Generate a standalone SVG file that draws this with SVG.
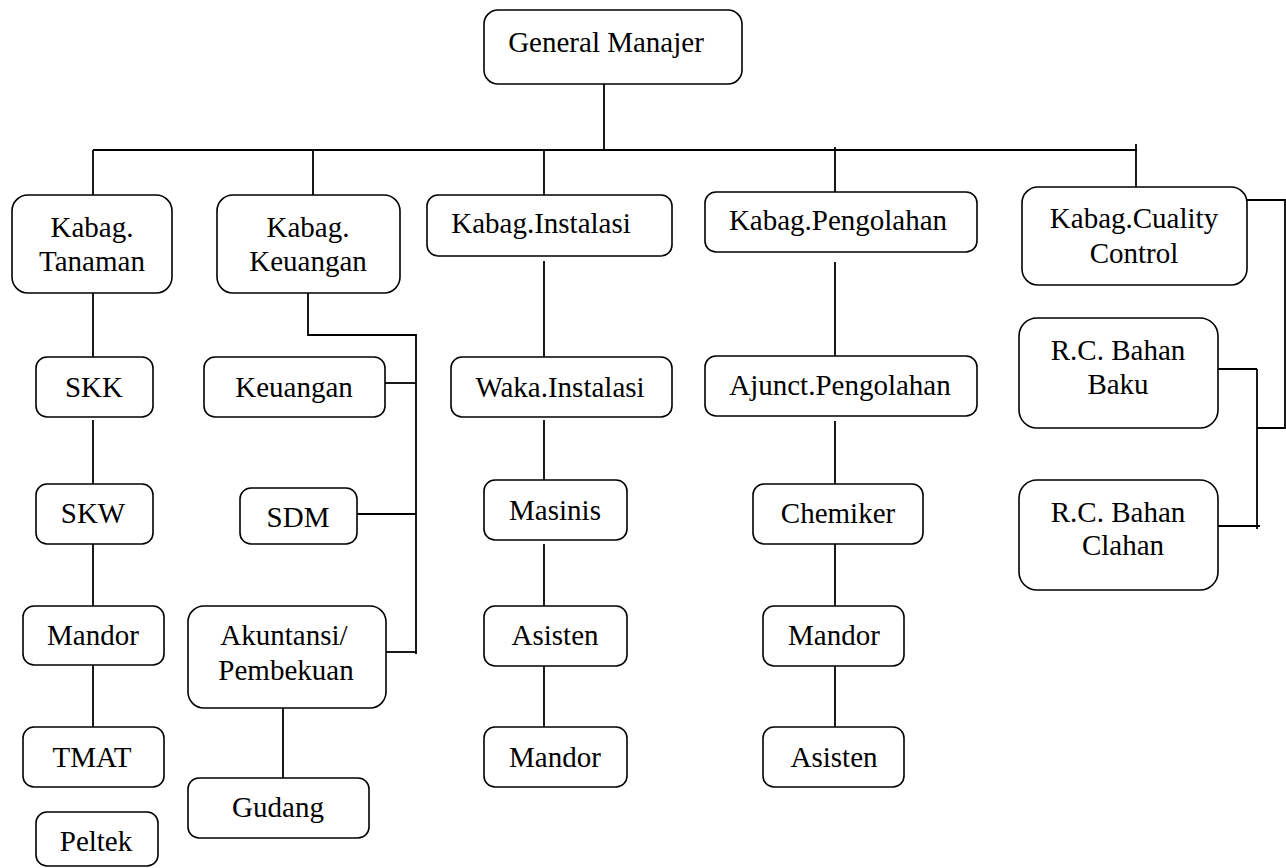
<svg xmlns="http://www.w3.org/2000/svg" width="1286" height="868" viewBox="0 0 1286 868">
<style>
rect.n{fill:#fff;stroke:#000;stroke-width:1.6}
text{font-family:'Liberation Serif','DejaVu Serif',serif;font-size:29px;fill:#000;text-anchor:middle}
.c line,.c polyline{stroke:#000;stroke-width:1.8;fill:none}
</style>
<rect width="1286" height="868" fill="#fff"/>
<g class="c" id="connectors">
<line x1="604" y1="84" x2="604" y2="150"/>
<line x1="93" y1="150" x2="1137" y2="150"/>
<line x1="1136" y1="144" x2="1136" y2="187"/>
<line x1="93" y1="150" x2="93" y2="195"/>
<line x1="313" y1="150" x2="313" y2="195"/>
<line x1="544" y1="150" x2="544" y2="195"/>
<line x1="835" y1="147" x2="835" y2="192"/>
<line x1="93" y1="293" x2="93" y2="357"/>
<line x1="93" y1="420" x2="93" y2="484"/>
<line x1="93" y1="544" x2="93" y2="606"/>
<line x1="93" y1="665" x2="93" y2="727"/>
<polyline points="308,290 308,335 416,335 416,654"/>
<line x1="385" y1="383" x2="416" y2="383"/>
<line x1="357" y1="514" x2="416" y2="514"/>
<line x1="386" y1="652" x2="416" y2="652"/>
<line x1="283" y1="708" x2="283" y2="778"/>
<line x1="544" y1="261" x2="544" y2="357"/>
<line x1="544" y1="420" x2="544" y2="483"/>
<line x1="544" y1="544" x2="544" y2="606"/>
<line x1="544" y1="666" x2="544" y2="727"/>
<line x1="835" y1="262" x2="835" y2="356"/>
<line x1="835" y1="421" x2="835" y2="484"/>
<line x1="835" y1="544" x2="835" y2="606"/>
<line x1="835" y1="666" x2="835" y2="727"/>
<polyline points="1247,200 1285,200 1285,428 1257,428"/>
<line x1="1257" y1="369" x2="1257" y2="529"/>
<line x1="1218" y1="369" x2="1257" y2="369"/>
<line x1="1218" y1="526" x2="1260" y2="526"/>
</g>
<g id="gm"><rect class="n" x="484" y="10" width="258" height="74" rx="14"/><text x="606" y="52">General Manajer</text></g>
<g id="tanaman"><rect class="n" x="12" y="195" width="160" height="98" rx="16"/><text x="92" y="237">Kabag.</text><text x="92" y="271">Tanaman</text></g>
<g id="keuangan-kabag"><rect class="n" x="217" y="195" width="183" height="98" rx="16"/><text x="308" y="237">Kabag.</text><text x="308" y="271">Keuangan</text></g>
<g id="instalasi"><rect class="n" x="427" y="195" width="245" height="61" rx="11"/><text x="541" y="233">Kabag.Instalasi</text></g>
<g id="pengolahan"><rect class="n" x="705" y="192" width="272" height="60" rx="11"/><text x="838" y="230">Kabag.Pengolahan</text></g>
<g id="qc"><rect class="n" x="1022" y="187" width="225" height="98" rx="16"/><text x="1134" y="228">Kabag.Cuality</text><text x="1134" y="263">Control</text></g>
<g id="skk"><rect class="n" x="36" y="357" width="117" height="60" rx="11"/><text x="94" y="397">SKK</text></g>
<g id="skw"><rect class="n" x="36" y="484" width="117" height="60" rx="11"/><text x="93" y="523">SKW</text></g>
<g id="mandor1"><rect class="n" x="23" y="606" width="141" height="59" rx="11"/><text x="93" y="645">Mandor</text></g>
<g id="tmat"><rect class="n" x="23" y="727" width="141" height="60" rx="11"/><text x="92" y="767">TMAT</text></g>
<g id="peltek"><rect class="n" x="36" y="812" width="122" height="54" rx="11"/><text x="96" y="851">Peltek</text></g>
<g id="keuangan"><rect class="n" x="204" y="357" width="181" height="60" rx="11"/><text x="294" y="397">Keuangan</text></g>
<g id="sdm"><rect class="n" x="240" y="488" width="117" height="56" rx="11"/><text x="298" y="527">SDM</text></g>
<g id="akuntansi"><rect class="n" x="188" y="606" width="198" height="102" rx="16"/><text x="284" y="645">Akuntansi/</text><text x="286" y="680">Pembekuan</text></g>
<g id="gudang"><rect class="n" x="188" y="778" width="181" height="60" rx="11"/><text x="278" y="817">Gudang</text></g>
<g id="waka"><rect class="n" x="451" y="357" width="221" height="60" rx="11"/><text x="560" y="397">Waka.Instalasi</text></g>
<g id="masinis"><rect class="n" x="484" y="480" width="143" height="60" rx="11"/><text x="555" y="520">Masinis</text></g>
<g id="asisten1"><rect class="n" x="484" y="606" width="143" height="60" rx="11"/><text x="555" y="645">Asisten</text></g>
<g id="mandor2"><rect class="n" x="484" y="727" width="143" height="60" rx="11"/><text x="555" y="767">Mandor</text></g>
<g id="ajunct"><rect class="n" x="705" y="356" width="272" height="60" rx="11"/><text x="840" y="395">Ajunct.Pengolahan</text></g>
<g id="chemiker"><rect class="n" x="753" y="484" width="170" height="60" rx="11"/><text x="838" y="523">Chemiker</text></g>
<g id="mandor3"><rect class="n" x="763" y="606" width="141" height="60" rx="11"/><text x="834" y="645">Mandor</text></g>
<g id="asisten2"><rect class="n" x="763" y="727" width="141" height="60" rx="11"/><text x="834" y="767">Asisten</text></g>
<g id="rcbaku"><rect class="n" x="1019" y="318" width="199" height="110" rx="18"/><text x="1118" y="360">R.C. Bahan</text><text x="1118" y="394">Baku</text></g>
<g id="rcclahan"><rect class="n" x="1019" y="480" width="199" height="110" rx="18"/><text x="1118" y="522">R.C. Bahan</text><text x="1123" y="555">Clahan</text></g>
</svg>
